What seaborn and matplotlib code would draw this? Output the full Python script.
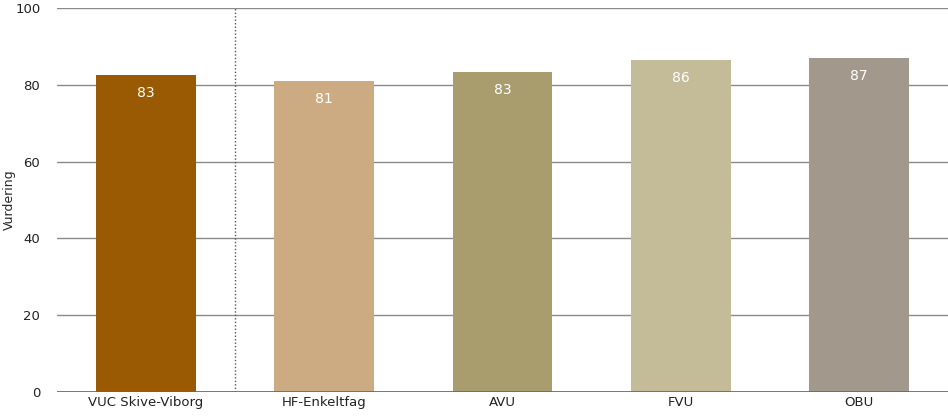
import matplotlib
matplotlib.use("Agg")
import matplotlib.pyplot as plt
import seaborn as sns
import pandas as pd

categories = ["VUC Skive-Viborg", "HF-Enkeltfag", "AVU", "FVU", "OBU"]
values = [82.6, 81.0, 83.3, 86.4, 87.0]
colors = ["#9A5A04", "#CDAB82", "#A99D6D", "#C4BB98", "#A2998C"]
y_ticks = [0, 20, 40, 60, 80, 100]

sns.set_style("white")
plt.rcParams["font.family"] = ["DejaVu Sans"]

df = pd.DataFrame({"category": categories, "value": values})

fig = plt.figure(figsize=(9.48, 4.16), dpi=100)
ax = fig.add_axes([57 / 948, 24 / 416, 1 - 57 / 948, 384 / 416])

sns.barplot(data=df, x="category", y="value", hue="category", palette=colors,
            width=0.56, legend=False, ax=ax, saturation=1, linewidth=0)

for i, v in enumerate(values):
    ax.annotate(f"{round(v)}", (i, v), xytext=(0, -13), textcoords="offset points",
                ha="center", va="center", color="white", fontsize=10)

ax.set_ylim(0, 100)
ax.set_xlim(-0.5, len(categories) - 0.5)
ax.set_yticks(y_ticks)
ax.yaxis.grid(True, color="#8a8a8a", lw=1)
ax.set_axisbelow(True)
ax.axvline(0.5, color="#555555", ls=(0, (1, 1.5)), lw=1)
for s in ax.spines.values():
    s.set_visible(False)
ax.axhline(0, color="#666666", lw=1.2)
ax.tick_params(axis="both", length=0, labelsize=9.5, colors="#222222")
ax.tick_params(axis="y", pad=12)
ax.tick_params(axis="x", pad=3)
ax.set_xlabel("")
ax.set_ylabel("Vurdering", fontsize=9)
ax.yaxis.set_label_coords(-0.046, 0.5)

fig.savefig("out.png", dpi=100)
